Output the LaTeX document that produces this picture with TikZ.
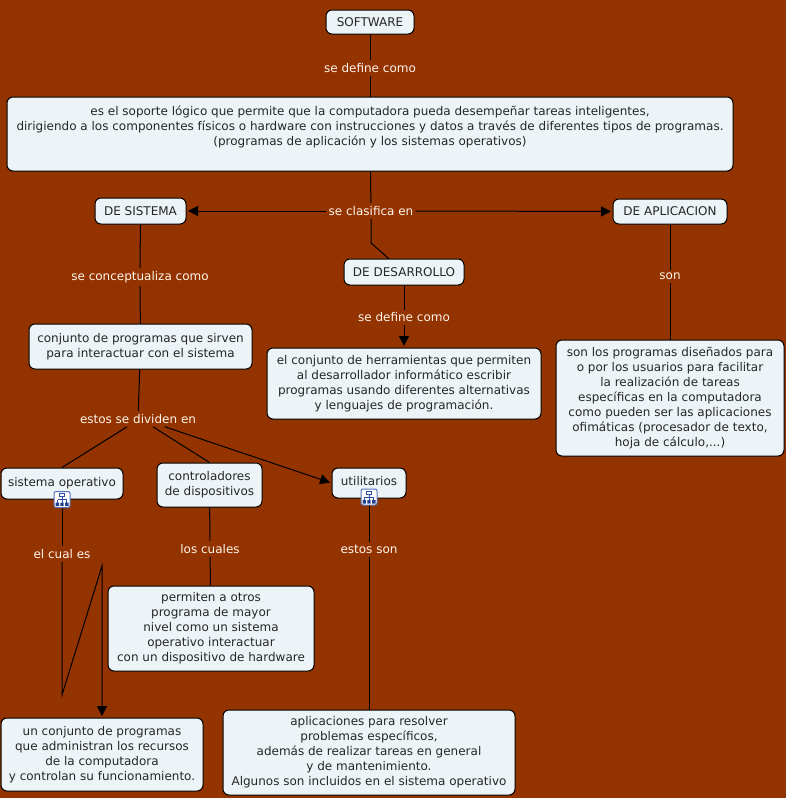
\documentclass[tikz,border=0pt]{standalone}
\usepackage{fontspec}
\setmainfont{DejaVu Sans}
\usetikzlibrary{arrows.meta}
\definecolor{fondo}{HTML}{933300}
\definecolor{caja}{HTML}{EDF4F7}
\definecolor{azul}{HTML}{2B4FA8}
\tikzset{
	concepto/.style={draw=black, line width=1pt, fill=caja, rounded corners=6pt, align=center, font=\fontsize{12}{15}\selectfont, inner sep=0pt, text=black!85},
	enlace/.style={fill=fondo, text=white!92!orange, font=\fontsize{12}{15}\selectfont, inner xsep=2pt, inner ysep=3pt},
	linea/.style={draw=black, line width=1pt},
	flecha/.style={linea, -{Triangle[width=10pt,length=10pt]}, shorten >=1.5pt},
	icono/.style={draw=azul!80, fill=white, line width=1pt, rounded corners=2pt, minimum size=16pt, inner sep=0pt},
	arbol/.pic={
		\draw[azul, line width=0.8pt] (-2.5,-6) rectangle (2.5,-3) (0,-3) -- (0,3) (-4.5,0) -- (4.5,0) -- (4.5,3) (-4.5,0) -- (-4.5,3);
		\fill[azul!85!black] (-6.5,3) rectangle (-3,6.5) (-1.7,3) rectangle (1.7,6.5) (3,3) rectangle (6.5,6.5);
	}
}
\begin{document}
\begin{tikzpicture}[x=1pt, y=-1pt]
\useasboundingbox[fill=fondo] (0,0) rectangle (786,798);

\node[concepto, minimum width=88pt, minimum height=24pt]	(software)	at (370,22)		{SOFTWARE};
\node[concepto, minimum width=726pt, minimum height=74pt]	(definicion)	at (370,134)	{es el soporte lógico que permite que la computadora pueda desempeñar tareas inteligentes,\\dirigiendo a los componentes físicos o hardware con instrucciones y datos a través de diferentes tipos de programas.\\(programas de aplicación y los sistemas operativos)\\[1.5pt]~};
\node[concepto, minimum width=91pt, minimum height=26pt]	(sistema)		at (140.5,211)	{DE SISTEMA};
\node[concepto, minimum width=114pt, minimum height=25pt]	(aplicacion)	at (670,211.5)	{DE APLICACION};
\node[concepto, minimum width=120pt, minimum height=26pt]	(desarrollo)	at (404,272)	{DE DESARROLLO};
\node[concepto, minimum width=223pt, minimum height=45pt]	(conjunto)	at (140.5,346.5)	{conjunto de programas que sirven\\para interactuar con el sistema};
\node[concepto, minimum width=274pt, minimum height=71pt]	(herramientas)	at (404,383.5)	{el conjunto de herramientas que permiten\\al desarrollador informático escribir\\programas usando diferentes alternativas\\y lenguajes de programación.};
\node[concepto, minimum width=228pt, minimum height=116pt]	(disenados)	at (670,398)	{son los programas diseñados para\\o por los usuarios para facilitar\\la realización de tareas\\específicas en la computadora\\como pueden ser las aplicaciones\\ofimáticas (procesador de texto,\\hoja de cálculo,...)};
\node[concepto, minimum width=122pt, minimum height=31pt, text depth=4pt]	(operativo)	at (62,483.5)	{sistema operativo};
\node[concepto, minimum width=105pt, minimum height=44pt]	(controladores)	at (209.5,485)	{controladores\\de dispositivos};
\node[concepto, minimum width=74pt, minimum height=30pt, text depth=4pt]	(utilitarios)	at (369,483)	{utilitarios};
\node[concepto, minimum width=206pt, minimum height=85pt]	(permiten)	at (211,628.5)	{permiten a otros\\programa de mayor\\nivel como un sistema\\operativo interactuar\\con un dispositivo de hardware};
\node[concepto, minimum width=202pt, minimum height=73pt]	(recursos)	at (102,754.5)	{un conjunto de programas\\que administran los recursos\\de la computadora\\y controlan su funcionamiento.};
\node[concepto, minimum width=292pt, minimum height=85pt]	(resolver)	at (369,752.5)	{aplicaciones para resolver\\problemas específicos,\\además de realizar tareas en general\\y de mantenimiento.\\Algunos son incluidos en el sistema operativo};

\node[enlace]	(e1)	at (370,68)		{se define como};
\node[enlace]	(e2)	at (371,211)	{se clasifica en};
\node[enlace]	(e3)	at (140,277)	{se conceptualiza como};
\node[enlace]	(e4)	at (404,317.5)	{se define como};
\node[enlace]	(e5)	at (670,276.5)	{son};
\node[enlace]	(e6)	at (138,419)	{estos se dividen en};
\node[enlace]	(e7)	at (62,554)		{el cual es};
\node[enlace]	(e8)	at (210,549)	{los cuales};
\node[enlace]	(e9)	at (369,549)	{estos son};

\coordinate	(quiebre)	at (371,243);
\coordinate	(zig)		at (62,695);
\coordinate	(zag)		at (102,566);

\path	(software)		edge[linea]	(e1)
		(e1)			edge[linea]	(definicion)
		(definicion)	edge[linea]	(e2)
		(sistema)		edge[linea]	(e3)
		(e3)			edge[linea]	(conjunto)
		(desarrollo)	edge[linea]	(e4)
		(aplicacion)	edge[linea]	(e5)
		(e5)			edge[linea]	(disenados)
		(conjunto)		edge[linea]	(e6)
		([xshift=-11pt]e6.south)	edge[linea]	(operativo.north)
		([xshift=15pt]e6.south)		edge[linea]	(controladores.north)
		(controladores)	edge[linea]	(e8)
		(e8)			edge[linea]	(permiten)
		(utilitarios)	edge[linea]	(e9)
		(e9)			edge[linea]	(resolver)
		(operativo)		edge[linea]	(e7)
		(e2)			edge[flecha]	(sistema)
		(e2)			edge[flecha]	(aplicacion)
		(e4)			edge[flecha]	(herramientas)
		([xshift=27pt]e6.south)	edge[flecha]	(utilitarios.west);
\draw[linea]	(e2) -- (quiebre) -- (desarrollo);
\draw[flecha]	(e7) -- (zig) -- (zag) -- (zag |- recursos.north);

\node[icono]	(icono1)	at (62,499.5)	{};
\node[icono]	(icono2)	at (369,497)	{};
\path	(icono1) pic {arbol}
		(icono2) pic {arbol};
\end{tikzpicture}
\end{document}
